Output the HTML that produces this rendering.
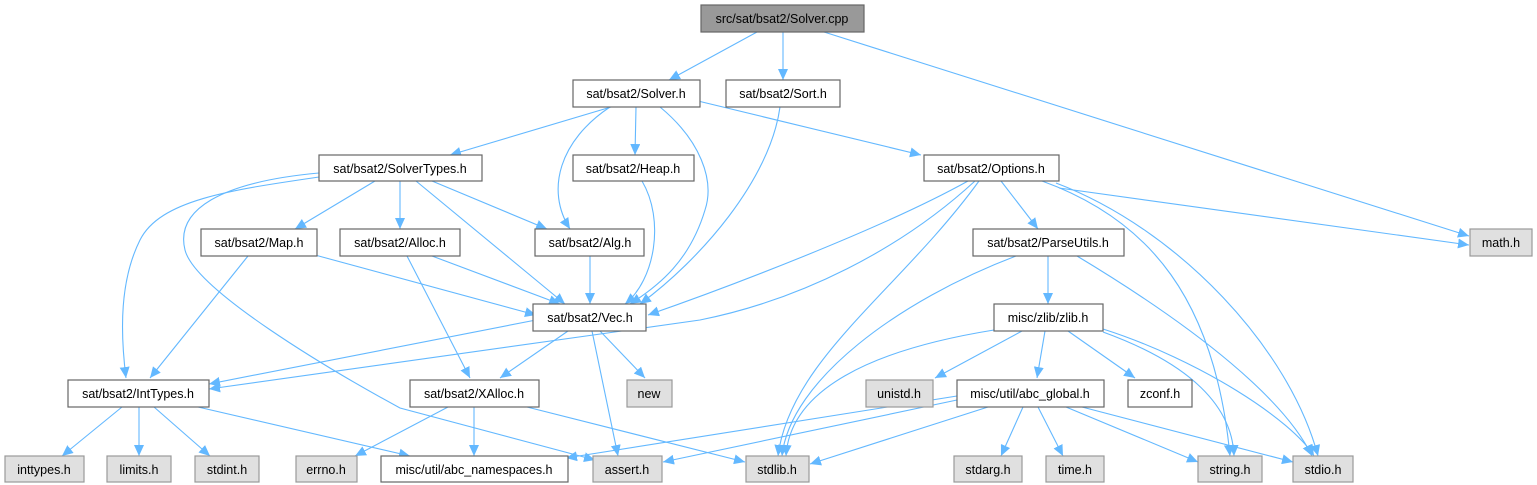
<!DOCTYPE html>
<html><head><meta charset="utf-8"><style>
html,body{margin:0;padding:0;background:#fff;}
svg{display:block;}
text{font-family:"Liberation Sans",Arial,sans-serif;font-size:12.5px;fill:#000;text-anchor:middle;}
.e{fill:none;stroke:#63b8ff;stroke-width:1.1;marker-end:url(#a);}
.w{fill:#fff;stroke:#666;stroke-width:1.2;}
.g{fill:#e0e0e0;stroke:#999;stroke-width:1.2;}
.d{fill:#999;stroke:#666;stroke-width:1.2;}
</style></head><body>
<svg width="1537" height="485" viewBox="0 0 1537 485" xmlns="http://www.w3.org/2000/svg">
<defs><marker id="a" markerUnits="userSpaceOnUse" markerWidth="12" markerHeight="10" refX="11" refY="5" orient="auto"><path d="M0,0 L11,5 L0,10 z" fill="#63b8ff"/></marker></defs>
<g>
<path class="e" d="M757,32 L669,80"/>
<path class="e" d="M783,32 L783,80"/>
<path class="e" d="M824,32 L1469,236"/>
<path class="e" d="M611,107 L450,155"/>
<path class="e" d="M610,107 C560,140 545,190 570,229"/>
<path class="e" d="M636,107 L635,155"/>
<path class="e" d="M660,107 C700,140 715,180 705,210 C690,260 660,285 630,304"/>
<path class="e" d="M698,101 L921,155"/>
<path class="e" d="M780,107 C770,180 700,260 640,304"/>
<path class="e" d="M375,181 L295,229"/>
<path class="e" d="M400,181 L400,229"/>
<path class="e" d="M432,181 L547,229"/>
<path class="e" d="M416,181 L565,304"/>
<path class="e" d="M319,177 C230,190 160,200 140,240 C120,280 120,330 126,378"/>
<path class="e" d="M319,173 C220,182 175,210 185,250 C195,290 330,370 400,408 L595,460"/>
<path class="e" d="M642,181 C665,220 655,280 625,304"/>
<path class="e" d="M590,256 L590,304"/>
<path class="e" d="M315,255 L536,315"/>
<path class="e" d="M248,256 L150,378"/>
<path class="e" d="M432,256 L560,304"/>
<path class="e" d="M407,256 L470,378"/>
<path class="e" d="M968,181 C880,230 720,290 648,315"/>
<path class="e" d="M975,181 C900,250 800,300 700,320 L209,389"/>
<path class="e" d="M979,181 C900,290 790,360 778,456"/>
<path class="e" d="M1001,181 L1038,229"/>
<path class="e" d="M1042,181 C1150,220 1215,300 1230,456"/>
<path class="e" d="M1056,183 C1180,230 1290,350 1318,456"/>
<path class="e" d="M1059,188 L1469,245"/>
<path class="e" d="M1016,256 C900,300 790,380 782,456"/>
<path class="e" d="M1048,256 L1048,304"/>
<path class="e" d="M1077,256 C1200,330 1285,400 1312,456"/>
<path class="e" d="M536,320 L209,384"/>
<path class="e" d="M568,331 L500,378"/>
<path class="e" d="M600,331 L645,378"/>
<path class="e" d="M592,331 L618,456"/>
<path class="e" d="M994,330 C870,350 790,390 786,456"/>
<path class="e" d="M1022,331 L935,378"/>
<path class="e" d="M1045,331 L1037,378"/>
<path class="e" d="M1068,331 L1135,378"/>
<path class="e" d="M1103,332 C1180,360 1232,400 1234,456"/>
<path class="e" d="M1103,329 C1200,360 1292,420 1314,456"/>
<path class="e" d="M122,407 L62,456"/>
<path class="e" d="M139,407 L139,456"/>
<path class="e" d="M154,407 L210,456"/>
<path class="e" d="M198,407 L410,456"/>
<path class="e" d="M448,407 L355,456"/>
<path class="e" d="M474,407 L474,456"/>
<path class="e" d="M527,407 L745,462"/>
<path class="e" d="M957,396 L566,458"/>
<path class="e" d="M957,400 L663,462"/>
<path class="e" d="M988,407 L810,464"/>
<path class="e" d="M1023,407 L1001,456"/>
<path class="e" d="M1038,407 L1063,456"/>
<path class="e" d="M1066,407 L1198,462"/>
<path class="e" d="M1082,407 L1293,462"/>
</g>
<g>
<rect class="d" x="701" y="5" width="163" height="27"/><text x="782" y="23">src/sat/bsat2/Solver.cpp</text>
<rect class="w" x="573" y="80" width="127" height="27"/><text x="636" y="98">sat/bsat2/Solver.h</text>
<rect class="w" x="726" y="80" width="114" height="27"/><text x="783" y="98">sat/bsat2/Sort.h</text>
<rect class="w" x="319" y="155" width="163" height="26"/><text x="400" y="173">sat/bsat2/SolverTypes.h</text>
<rect class="w" x="573" y="155" width="121" height="26"/><text x="633" y="173">sat/bsat2/Heap.h</text>
<rect class="w" x="924" y="155" width="135" height="26"/><text x="991" y="173">sat/bsat2/Options.h</text>
<rect class="g" x="1470" y="229" width="62" height="27"/><text x="1501" y="247">math.h</text>
<rect class="w" x="201" y="229" width="116" height="27"/><text x="259" y="247">sat/bsat2/Map.h</text>
<rect class="w" x="340" y="229" width="120" height="27"/><text x="400" y="247">sat/bsat2/Alloc.h</text>
<rect class="w" x="535" y="229" width="109" height="27"/><text x="590" y="247">sat/bsat2/Alg.h</text>
<rect class="w" x="973" y="229" width="151" height="27"/><text x="1048" y="247">sat/bsat2/ParseUtils.h</text>
<rect class="w" x="533" y="304" width="113" height="27"/><text x="590" y="322">sat/bsat2/Vec.h</text>
<rect class="w" x="994" y="304" width="109" height="27"/><text x="1048" y="322">misc/zlib/zlib.h</text>
<rect class="w" x="68" y="380" width="141" height="27"/><text x="138" y="398">sat/bsat2/IntTypes.h</text>
<rect class="g" x="627" y="380" width="45" height="27"/><text x="649" y="398">new</text>
<rect class="w" x="410" y="380" width="129" height="27"/><text x="474" y="398">sat/bsat2/XAlloc.h</text>
<rect class="g" x="866" y="380" width="67" height="27"/><text x="899" y="398">unistd.h</text>
<rect class="w" x="957" y="380" width="147" height="27"/><text x="1030" y="398">misc/util/abc_global.h</text>
<rect class="w" x="1128" y="380" width="64" height="27"/><text x="1160" y="398">zconf.h</text>
<rect class="g" x="5" y="456" width="79" height="26"/><text x="44" y="474">inttypes.h</text>
<rect class="g" x="107" y="456" width="64" height="26"/><text x="139" y="474">limits.h</text>
<rect class="g" x="195" y="456" width="64" height="26"/><text x="227" y="474">stdint.h</text>
<rect class="g" x="296" y="456" width="61" height="26"/><text x="326" y="474">errno.h</text>
<rect class="w" x="381" y="456" width="187" height="26"/><text x="474" y="474">misc/util/abc_namespaces.h</text>
<rect class="g" x="593" y="456" width="69" height="26"/><text x="627" y="474">assert.h</text>
<rect class="g" x="746" y="456" width="63" height="26"/><text x="777" y="474">stdlib.h</text>
<rect class="g" x="954" y="456" width="68" height="26"/><text x="988" y="474">stdarg.h</text>
<rect class="g" x="1046" y="456" width="58" height="26"/><text x="1075" y="474">time.h</text>
<rect class="g" x="1198" y="456" width="64" height="26"/><text x="1230" y="474">string.h</text>
<rect class="g" x="1293" y="456" width="60" height="26"/><text x="1323" y="474">stdio.h</text>
</g>
</svg>
</body></html>
